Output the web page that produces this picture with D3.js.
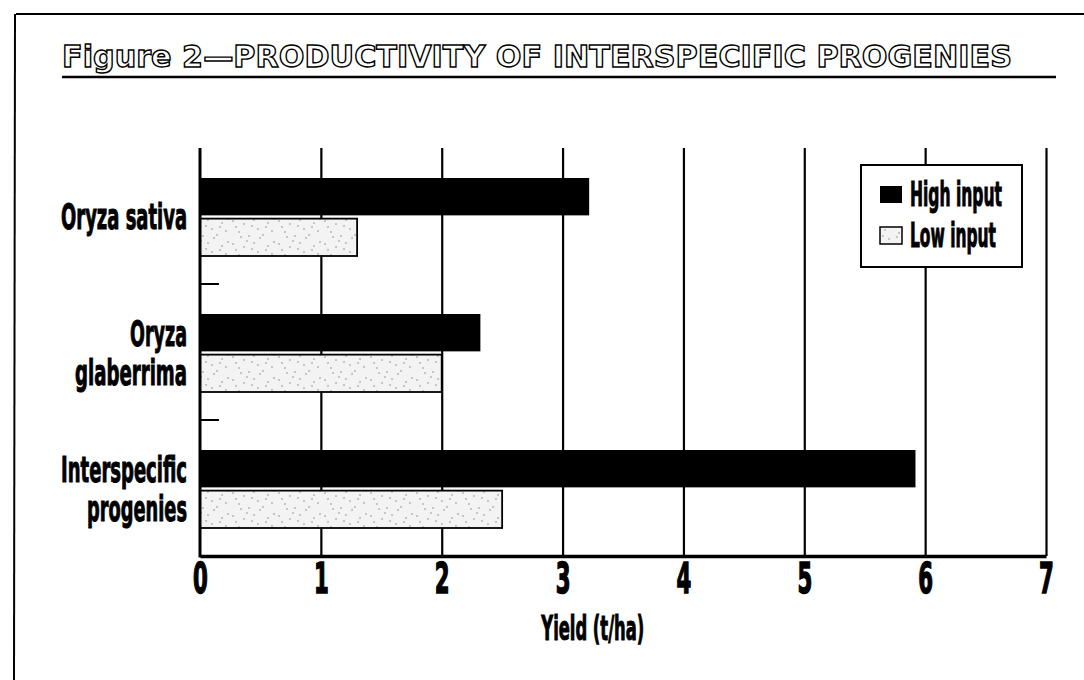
<!DOCTYPE html>
<html>
<head>
<meta charset="utf-8">
<script src="https://cdn.jsdelivr.net/npm/d3@7"></script>
<style>
  html, body { margin: 0; padding: 0; background: #fff; }
  svg { display: block; }
  .cond { font-family: "Liberation Sans Narrow", "Arial Narrow", "DejaVu Sans Condensed", "Roboto", sans-serif; font-weight: bold; fill: #000; stroke: #000; stroke-width: 1; }
</style>
</head>
<body>
<svg id="chart" width="1084" height="680"></svg>
<script>
// ---- data ----
const categories = ["Oryza sativa", "Oryza glaberrima", "Interspecific progenies"];
const categoryLines = [["Oryza sativa"], ["Oryza", "glaberrima"], ["Interspecific", "progenies"]];
const series = ["High input", "Low input"];
const highInput = [3.22, 2.32, 5.92];
const lowInput = [1.30, 2.00, 2.50];
const xTicks = [0, 1, 2, 3, 4, 5, 6, 7];
const titleText = "Figure 2\u2014PRODUCTIVITY OF INTERSPECIFIC PROGENIES";
const xAxisTitle = "Yield (t/ha)";

// ---- layout ----
const W = 1084, H = 680;
const plot = { left: 200, right: 1046, top: 148, bottom: 556 };

const svg = d3.select("#chart");

// squeeze a text horizontally (around its anchor) to a target width
function squeeze(sel, tx, ty, width) {
  sel.each(function (d, i) {
    const n = this.getComputedTextLength();
    const w = typeof width === "function" ? width(d, i) : width;
    const X = typeof tx === "function" ? tx(d, i) : tx;
    const Y = typeof ty === "function" ? ty(d, i) : ty;
    d3.select(this).attr("x", 0).attr("y", 0)
      .attr("transform", `translate(${X},${Y}) scale(${w / n},1)`);
  });
}

// speckle pattern for low-input bars
const defs = svg.append("defs");
const pat = defs.append("pattern").attr("id", "speckle")
  .attr("patternUnits", "userSpaceOnUse").attr("width", 46).attr("height", 23);
pat.append("rect").attr("width", 46).attr("height", 23).attr("fill", "#f3f3f3");
const dots = [[3,4],[9,15],[14,7],[19,19],[24,3],[28,12],[33,18],[38,6],[42,14],[6,10],[17,1],[30,21],[44,2],[11,20],[36,10],[22,9]];
pat.selectAll("circle").data(dots).join("circle")
  .attr("cx", d => d[0]).attr("cy", d => d[1]).attr("r", 0.8).attr("fill", "#8a8a8a");

// page frame
svg.append("line").attr("x1", 16).attr("x2", W).attr("y1", 14).attr("y2", 14)
  .attr("stroke", "#000").attr("stroke-width", 2);
svg.append("line").attr("x1", 15).attr("x2", 14).attr("y1", 14).attr("y2", H)
  .attr("stroke", "#000").attr("stroke-width", 2);

// title (outlined)
svg.append("text").attr("x", 62).attr("y", 67)
  .attr("font-family", "DejaVu Sans").attr("font-weight", "bold").attr("font-size", 30)
  .attr("fill", "#fff").attr("stroke", "#000").attr("stroke-width", 1.4)
  .attr("textLength", 950).attr("lengthAdjust", "spacingAndGlyphs")
  .text(titleText);
svg.append("line").attr("x1", 62).attr("x2", 1056).attr("y1", 77).attr("y2", 77)
  .attr("stroke", "#000").attr("stroke-width", 2.5);

// scales
const x = d3.scaleLinear().domain([0, 7]).range([plot.left, plot.right]);
const y = d3.scaleBand().domain(categories).range([plot.top, plot.bottom]).paddingInner(0).paddingOuter(0);
const ySub = d3.scaleBand().domain(series).range([30, 108]).paddingInner(0.08);

// gridlines
const grid = svg.append("g").attr("transform", `translate(0,${plot.bottom})`)
  .call(d3.axisBottom(x).tickValues(xTicks.slice(1)).tickSize(-(plot.bottom - plot.top)).tickFormat(""));
grid.select(".domain").remove();
grid.selectAll(".tick line").attr("stroke", "#000").attr("stroke-width", 2.2);

// bars
const rows = categories.map((c, i) => ({ cat: c, values: [
  { s: series[0], v: highInput[i] }, { s: series[1], v: lowInput[i] } ] }));
const rowG = svg.append("g").selectAll("g").data(rows).join("g")
  .attr("transform", d => `translate(0,${y(d.cat)})`);
rowG.selectAll("rect").data(d => d.values).join("rect")
  .attr("x", x(0))
  .attr("y", d => ySub(d.s))
  .attr("width", d => x(d.v) - x(0))
  .attr("height", ySub.bandwidth())
  .attr("fill", d => d.s === series[0] ? "#000" : "url(#speckle)")
  .attr("stroke", "#000")
  .attr("stroke-width", d => d.s === series[0] ? 0 : 1.8);

// left axis line and inner ticks at band boundaries
svg.append("line").attr("x1", x(0)).attr("x2", x(0)).attr("y1", plot.top).attr("y2", plot.bottom + 1.5)
  .attr("stroke", "#000").attr("stroke-width", 3);
svg.append("g").selectAll("line").data(categories.slice(1)).join("line")
  .attr("x1", x(0)).attr("x2", x(0) + 19)
  .attr("y1", d => y(d)).attr("y2", d => y(d))
  .attr("stroke", "#000").attr("stroke-width", 2);

// bottom axis
const xAxis = svg.append("g").attr("transform", `translate(0,${plot.bottom})`)
  .call(d3.axisBottom(x).tickValues(xTicks).tickSize(0).tickPadding(0).tickFormat(d3.format("d")));
xAxis.select(".domain").attr("stroke", "#000").attr("stroke-width", 3.5);
xAxis.selectAll(".tick text")
  .attr("class", "cond").attr("font-size", 43).style("stroke-width", 1.5)
  .attr("y", 0).attr("dy", 0)
  .attr("transform", "translate(0,37) scale(0.55,1)");

// x axis title
svg.append("text").attr("class", "cond").attr("text-anchor", "middle").attr("font-size", 33)
  .text(xAxisTitle)
  .call(squeeze, (x(3) + x(3.5)) / 2, 640, 103);

// category labels
const labelW = { "Oryza sativa": 126, "Oryza": 57, "glaberrima": 112, "Interspecific": 126, "progenies": 100 };
const labG = svg.append("g").selectAll("g").data(categories).join("g")
  .attr("transform", d => `translate(187,${y(d) + y.bandwidth() / 2})`);
labG.each(function (d, i) {
  const lines = categoryLines[i];
  d3.select(this).selectAll("text").data(lines).join("text")
    .attr("class", "cond").attr("font-size", 36).attr("text-anchor", "end")
    .text(t => t)
    .call(squeeze, 0, (t, j) => 13 + (j - (lines.length - 1) / 2) * 39, t => labelW[t]);
});

// legend
const lg = svg.append("g").attr("transform", "translate(861,165)");
lg.append("rect").attr("width", 161).attr("height", 102).attr("fill", "#fff")
  .attr("stroke", "#000").attr("stroke-width", 2);
const legW = { "High input": 92, "Low input": 86 };
const li = lg.selectAll("g.item").data(series).join("g").attr("class", "item")
  .attr("transform", (d, i) => `translate(0,${21 + i * 41})`);
li.append("rect").attr("x", 19).attr("y", 0).attr("width", 22).attr("height", 17)
  .attr("fill", (d, i) => i === 0 ? "#000" : "url(#speckle)")
  .attr("stroke", "#000").attr("stroke-width", (d, i) => i === 0 ? 0 : 1.5);
li.append("text").attr("class", "cond").attr("font-size", 33)
  .text(d => d)
  .call(squeeze, 49, 20, d => legW[d]);
</script>
</body>
</html>
